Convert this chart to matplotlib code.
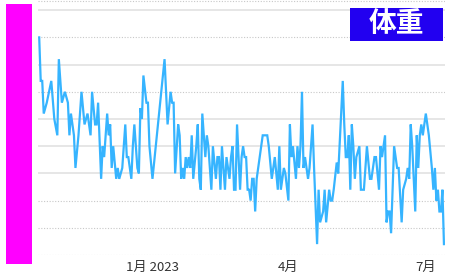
import matplotlib
matplotlib.use("Agg")
import matplotlib.pyplot as plt
import matplotlib.dates as mdates
from matplotlib.patches import Rectangle
import pandas as pd

plt.rcParams['font.family'] = ['Noto Sans CJK JP', 'DejaVu Sans']

# Days since 2023-01-01 for each measurement
day_offsets = [
    -75, -74, -73, -72, -70, -67, -65, -63, -62, -60, -58, -56, -55, -54, -52, -51, -49, -47, -45, -43,
    -41, -40, -38, -37, -36, -34, -33, -32, -30, -29, -28, -27, -26, -24, -23, -22, -20, -18, -17, -16,
    -14, -13, -12, -10, -9, -8, -7, -6, -4, -3, -2, 0, 8, 10, 12, 13, 14, 15, 17, 18,
    19, 20, 21, 22, 23, 24, 25, 26, 27, 29, 30, 31, 32, 33, 35, 36, 37, 39, 40, 42,
    43, 44, 45, 46, 48, 49, 51, 52, 53, 54, 55, 56, 58, 59, 60, 61, 62, 63, 64, 65,
    66, 67, 68, 69, 71, 73, 75, 76, 77, 79, 81, 83, 84, 85, 87, 88, 90, 91, 92, 93,
    95, 96, 97, 98, 99, 100, 101, 103, 104, 106, 107, 109, 110, 111, 113, 114, 115, 117, 118, 119,
    120, 122, 123, 126, 127, 128, 129, 130, 131, 132, 133, 134, 135, 137, 138, 140, 142, 144, 145, 147,
    148, 150, 151, 152, 154, 155, 156, 157, 158, 159, 160, 162, 163, 165, 166, 168, 169, 170, 171, 172,
    174, 175, 176, 177, 178, 179, 181, 183, 185, 186, 187, 188, 189, 190, 191, 192, 193,
]

# Body weight (kg)
weight = [
    74.0, 73.2, 73.2, 72.6, 72.8, 73.2, 72.5, 72.2, 73.6, 72.8, 73.0, 72.8, 72.2, 72.6, 72.2, 71.6, 72.2, 73.0, 72.4, 72.6,
    72.2, 73.0, 72.4, 72.4, 72.8, 71.4, 72.0, 71.8, 72.6, 72.2, 72.4, 71.6, 72.0, 71.4, 71.6, 71.4, 71.6, 72.4, 71.8, 71.8,
    71.4, 72.0, 72.4, 71.6, 71.5, 72.7, 72.5, 73.3, 72.8, 72.8, 72.0, 71.4, 73.6, 72.4, 73.0, 72.8, 72.8, 71.5, 72.4, 72.2,
    71.4, 71.6, 71.4, 71.8, 71.6, 71.8, 71.6, 72.2, 71.4, 72.0, 72.4, 71.4, 71.2, 72.6, 71.8, 72.2, 72.0, 71.2, 72.0, 71.4,
    71.8, 71.8, 71.2, 72.0, 71.2, 71.8, 71.4, 71.8, 72.0, 71.2, 71.2, 72.4, 71.2, 71.8, 72.0, 71.8, 71.8, 71.2, 71.2, 71.0,
    71.4, 71.4, 70.8, 71.4, 71.8, 72.2, 72.2, 72.2, 72.0, 71.4, 71.8, 71.2, 72.0, 71.2, 71.6, 71.5, 71.0, 72.4, 71.8, 72.0,
    71.4, 72.0, 71.6, 72.0, 73.0, 71.6, 71.8, 71.4, 71.6, 72.4, 71.6, 70.2, 71.2, 70.6, 70.8, 71.2, 70.6, 71.2, 71.0, 71.0,
    71.2, 71.7, 71.5, 73.2, 72.4, 71.8, 71.8, 72.2, 71.2, 72.4, 72.0, 71.4, 71.8, 72.0, 71.2, 71.2, 72.0, 71.4, 71.4, 71.8,
    71.8, 71.2, 72.0, 71.8, 72.2, 70.6, 70.8, 70.8, 70.4, 71.2, 72.0, 71.6, 71.6, 70.6, 71.2, 71.4, 71.6, 71.4, 72.4, 72.0,
    70.8, 72.2, 71.6, 72.2, 72.4, 72.2, 72.6, 72.2, 71.6, 71.2, 71.6, 71.0, 71.2, 70.8, 70.8, 71.2, 70.2,
]

tick_dates = ["2023-01-01", "2023-04-01", "2023-07-01"]
tick_labels = ["1月 2023", "4月", "7月"]
grid_levels = [74.67, 74.5, 74.0, 73.5, 73.0, 72.5, 72.0, 71.5, 71.0, 70.5, 70.0]
grid_dotted = [True, False, True, False, True, False, False, False, True, True, True]
badge_text = "体重"

base = pd.Timestamp("2023-01-01")
dates = [base + pd.Timedelta(days=d) for d in day_offsets]

W, H = 450, 276
fig = plt.figure(figsize=(W / 100, H / 100), dpi=100)
ax = fig.add_axes([38 / W, (H - 255) / H, (445 - 38) / W, 255 / H])

for lvl, dotted in zip(grid_levels, grid_dotted):
    if dotted:
        ax.axhline(lvl, color="#c8c8c8", lw=0.8, ls=(0, (1, 1.5)), zorder=0)
    else:
        ax.axhline(lvl, color="#e6e6e6", lw=1.4, zorder=0)

ax.plot(dates, weight, color="#36B4FF", lw=1.6, solid_joinstyle="miter", zorder=2)

ax.set_ylim(70.0, 70.0 + 255 / 54.4)
ax.set_xlim(base - pd.Timedelta(days=75.8), base + pd.Timedelta(days=193.7))
ax.set_xticks([pd.Timestamp(t) for t in tick_dates])
ax.set_xticklabels(tick_labels, fontsize=9.5, color="#333333")
ax.tick_params(axis="x", length=0, pad=4.5)
ax.set_yticks([])
for s in ax.spines.values():
    s.set_visible(False)

# magenta side bar
fig.patches.append(Rectangle((6 / W, (H - 264) / H), 26 / W, 260 / H,
                             transform=fig.transFigure, facecolor="#FF00FF", edgecolor="none"))
# badge
fig.patches.append(Rectangle((350 / W, (H - 41) / H), 93 / W, 33 / H,
                             transform=fig.transFigure, facecolor="#2200F0", edgecolor="none", zorder=3))
fig.text(396.5 / W, (H - 24.5) / H, badge_text, color="white", fontsize=20, fontweight="bold",
         ha="center", va="center", zorder=4)

fig.savefig("out.png", dpi=100)
